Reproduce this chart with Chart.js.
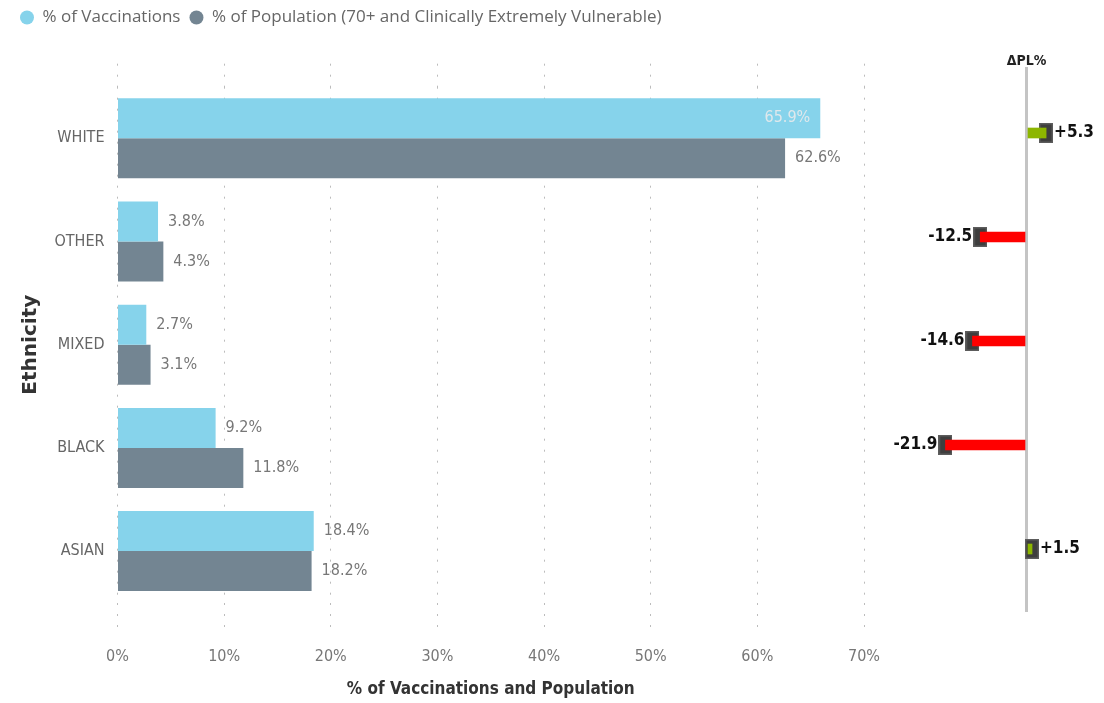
<!DOCTYPE html>
<html lang="en">
<head>
<meta charset="UTF-8">
<title>Vaccinations vs Population by Ethnicity</title>
<style>
  html, body { margin: 0; padding: 0; background: #fff; overflow: hidden; }
  #wrap { position: relative; width: 1104px; height: 703px; }
  #mainChart { position: absolute; left: 0; top: 0; }
  #deltaChart { position: absolute; left: 880px; top: 0; }
</style>
</head>
<body>
<div id="wrap">
  <canvas id="mainChart" width="880" height="703"></canvas>
  <canvas id="deltaChart" width="224" height="703"></canvas>
</div>
<script src="https://cdn.jsdelivr.net/npm/chart.js"></script>
<script>
// values
const ethnicities = ['WHITE', 'OTHER', 'MIXED', 'BLACK', 'ASIAN'];
const pctVaccinations = [65.9, 3.8, 2.7, 9.2, 18.4];
const pctPopulation = [62.6, 4.3, 3.1, 11.8, 18.2];
const deltaPL = [5.3, -12.5, -14.6, -21.9, 1.5];
const xTicks = [0, 10, 20, 30, 40, 50, 60, 70];

const narrow = "'DejaVu Sans Condensed', 'Liberation Sans Narrow', sans-serif";
Chart.defaults.font.family = narrow;

const gridGrey = '#bcbcbc';
const setXTicks = s => { s.ticks = xTicks.map(v => ({ value: v })); };

// % labels next to (or inside) each bar
const barValueLabels = {
  id: 'barValueLabels',
  afterDatasetsDraw(chart) {
    const ctx = chart.ctx;
    const area = chart.chartArea;
    ctx.save();
    ctx.font = '16px ' + narrow;
    ctx.textBaseline = 'middle';
    chart.data.datasets.forEach((ds, i) => {
      chart.getDatasetMeta(i).data.forEach((bar, j) => {
        const text = ds.data[j].toFixed(1) + '%';
        const w = ctx.measureText(text).width;
        if (bar.x + 10 + w > area.right - 5) {
          ctx.fillStyle = '#dfe8ec';
          ctx.textAlign = 'right';
          ctx.fillText(text, bar.x - 10, bar.y);
        } else {
          ctx.fillStyle = '#777';
          ctx.textAlign = 'left';
          ctx.fillText(text, bar.x + 10, bar.y);
        }
      });
    });
    ctx.restore();
  }
};

const mainChart = new Chart(document.getElementById('mainChart'), {
  type: 'bar',
  data: {
    labels: ethnicities,
    datasets: [
      {
        label: '% of Vaccinations',
        data: pctVaccinations,
        backgroundColor: '#86D3EB',
        categoryPercentage: 0.775,
        barPercentage: 1
      },
      {
        label: '% of Population (70+ and Clinically Extremely Vulnerable)',
        data: pctPopulation,
        backgroundColor: '#738592',
        categoryPercentage: 0.775,
        barPercentage: 1
      }
    ]
  },
  options: {
    indexAxis: 'y',
    responsive: false,
    animation: false,
    layout: { padding: { left: 11, right: 16, top: 0, bottom: 0 } },
    plugins: {
      legend: {
        position: 'top',
        align: 'start',
        labels: {
          usePointStyle: true,
          pointStyle: 'circle',
          pointStyleWidth: 14,
          boxHeight: 10,
          padding: 9,
          color: '#666',
          font: { family: "'Open Sans', sans-serif", size: 17 }
        }
      },
      tooltip: { enabled: false }
    },
    scales: {
      x: {
        position: 'bottom',
        min: 0,
        max: 70,
        afterBuildTicks: setXTicks,
        afterFit: s => { s.height = 100.3; s.paddingLeft = 0; s.paddingRight = 0; },
        grid: { color: gridGrey, tickLength: 30, tickBorderDash: [2, 9] },
        border: { display: false, dash: [2, 9] },
        ticks: { color: '#777', font: { size: 16 }, padding: 15, callback: v => v + '%' },
        title: {
          display: true,
          text: '% of Vaccinations and Population',
          color: '#333',
          font: { size: 17, weight: 'bold' },
          padding: { top: 0, bottom: 3 }
        }
      },
      // top axis only used to run the dotted grid up above the bars
      x2: {
        position: 'top',
        min: 0,
        max: 70,
        afterBuildTicks: setXTicks,
        afterFit: s => {
          s.height = 86.7 - (s.chart.legend ? s.chart.legend.height : 0);
          s.paddingLeft = 0;
          s.paddingRight = 0;
        },
        grid: { drawOnChartArea: false, color: gridGrey, tickLength: 23, tickBorderDash: [2, 9] },
        border: { display: false },
        ticks: { display: false }
      },
      y: {
        afterFit: s => { s.width = 106.5; },
        grid: { display: false, drawTicks: false },
        border: { display: false },
        ticks: { color: '#666', font: { size: 16 }, padding: 13 },
        title: {
          display: true,
          text: 'Ethnicity',
          color: '#333',
          font: { family: "'DejaVu Sans', sans-serif", size: 20, weight: 'bold' },
          padding: { top: 8, bottom: 0 }
        }
      }
    }
  },
  plugins: [barValueLabels]
});

// marker drawn at the end of each delta bar
const marker = document.createElement('canvas');
marker.width = 14;
marker.height = 20;
const mctx = marker.getContext('2d');
mctx.fillStyle = '#5c5c5c';
mctx.fillRect(0, 0, 14, 20);
mctx.fillStyle = '#3e3e3e';
mctx.fillRect(1.5, 1.5, 11, 17);

const deltaLabels = {
  id: 'deltaLabels',
  afterDatasetsDraw(chart) {
    const ctx = chart.ctx;
    const meta = chart.getDatasetMeta(1);
    ctx.save();
    ctx.font = 'bold 17px ' + narrow;
    ctx.textBaseline = 'middle';
    ctx.fillStyle = '#111';
    meta.data.forEach((pt, j) => {
      const v = deltaPL[j];
      const text = (v > 0 ? '+' : '') + v.toFixed(1);
      if (v >= 0) {
        ctx.textAlign = 'left';
        ctx.fillText(text, pt.x + 8, pt.y);
      } else {
        ctx.textAlign = 'right';
        ctx.fillText(text, pt.x - 8, pt.y);
      }
    });
    ctx.restore();
  }
};

const zeroOnly = s => { s.ticks = [{ value: 0 }]; };
const deltaMin = -39.6;
const deltaMax = 20.95;

const deltaChart = new Chart(document.getElementById('deltaChart'), {
  type: 'bar',
  data: {
    labels: ethnicities,
    datasets: [
      {
        type: 'bar',
        data: deltaPL,
        backgroundColor: deltaPL.map(v => v < 0 ? '#FF0000' : '#8DB600'),
        barThickness: 10,
        order: 0
      },
      {
        type: 'line',
        data: deltaPL,
        showLine: false,
        pointStyle: marker,
        pointRadius: 10,
        pointHoverRadius: 10,
        order: 1
      }
    ]
  },
  options: {
    indexAxis: 'y',
    responsive: false,
    animation: false,
    layout: { padding: 0, autoPadding: false },
    plugins: {
      legend: { display: false },
      tooltip: { enabled: false }
    },
    scales: {
      x: {
        position: 'top',
        min: deltaMin,
        max: deltaMax,
        afterBuildTicks: zeroOnly,
        afterFit: s => { s.height = 81; s.paddingLeft = 0; s.paddingRight = 0; },
        grid: { color: '#c4c4c4', lineWidth: 3, tickLength: 14 },
        border: { display: false },
        ticks: {
          callback: () => 'ΔPL%',
          color: '#222',
          font: { size: 14, weight: 'bold' },
          padding: -3,
          maxRotation: 0
        }
      },
      x2: {
        position: 'bottom',
        min: deltaMin,
        max: deltaMax,
        afterBuildTicks: zeroOnly,
        afterFit: s => { s.height = 102; s.paddingLeft = 0; s.paddingRight = 0; },
        grid: { drawOnChartArea: false, color: '#c4c4c4', lineWidth: 3, tickLength: 11 },
        border: { display: false },
        ticks: { display: false }
      },
      y: { display: false }
    }
  },
  plugins: [deltaLabels]
});
</script>
</body>
</html>
